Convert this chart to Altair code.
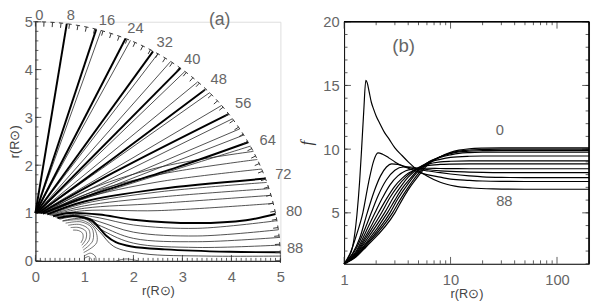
import altair as alt
import pandas as pd
import numpy as np

FONT = "Liberation Sans"
LABC = "#666666"

# ---------------- panel (b): f(r) for footpoint colatitudes 0..88 ----------------
B_THETA = [0, 8, 16, 24, 32, 40, 48, 56, 64, 72, 80, 88]
R_0 = [1, 1.3, 1.6, 3.0, 3.5, 4, 5, 6, 8, 10, 12, 15, 20, 30, 200]
F_0 = [1, 1.55, 2.3, 5.0, 6.0, 6.8, 7.9, 8.7, 9.4, 9.75, 9.92, 10.03, 10.08, 10.1, 10.1]
R_8 = [1, 1.3, 1.6, 2.85, 3.4, 4, 5, 6, 8, 10, 12, 15, 20, 30, 200]
F_8 = [1, 1.6, 2.4, 5.0, 6.1, 7.0, 8.1, 8.8, 9.4, 9.7, 9.85, 9.93, 9.97, 10.0, 10.0]
R_16 = [1, 1.3, 1.6, 2.7, 3.2, 4, 5, 6, 8, 10, 12, 15, 20, 30, 200]
F_16 = [1, 1.65, 2.5, 5.0, 6.1, 7.3, 8.3, 8.9, 9.4, 9.65, 9.78, 9.85, 9.88, 9.9, 9.9]
R_24 = [1, 1.3, 1.6, 2.55, 3, 3.5, 4, 5, 6, 8, 10, 12, 15, 20, 30, 200]
F_24 = [1, 1.7, 2.6, 5.0, 6.0, 6.9, 7.5, 8.4, 8.9, 9.35, 9.55, 9.67, 9.73, 9.76, 9.77, 9.77]
R_32 = [1, 1.3, 1.6, 2.4, 3, 3.5, 4, 5, 6, 8, 10, 15, 20, 30, 200]
F_32 = [1, 1.75, 2.8, 5.0, 6.4, 7.2, 7.8, 8.5, 8.9, 9.2, 9.35, 9.44, 9.46, 9.46, 9.46]
R_40 = [1, 1.3, 1.6, 2.25, 2.7, 3.2, 3.8, 4.5, 5, 6, 8, 10, 15, 20, 30, 200]
F_40 = [1, 1.8, 3.0, 5.0, 6.2, 7.1, 7.8, 8.3, 8.55, 8.8, 9.0, 9.05, 9.08, 9.08, 9.08, 9.08]
R_48 = [1, 1.3, 1.6, 2.1, 2.5, 3, 3.5, 4, 5, 6, 8, 10, 15, 20, 30, 200]
F_48 = [1, 1.9, 3.2, 5.0, 6.1, 7.1, 7.7, 8.1, 8.5, 8.7, 8.8, 8.83, 8.85, 8.85, 8.85, 8.85]
R_56 = [1, 1.3, 1.6, 1.95, 2.3, 2.7, 3.2, 3.8, 4.5, 5, 6, 8, 10, 15, 20, 30, 50, 200]
F_56 = [1, 2.0, 3.5, 5.0, 6.2, 7.2, 7.9, 8.3, 8.45, 8.5, 8.5, 8.48, 8.47, 8.46, 8.46, 8.46, 8.46, 8.46]
R_64 = [1, 1.3, 1.6, 1.8, 2.1, 2.5, 3, 3.6, 4.2, 5, 6, 8, 10, 15, 20, 30, 50, 200]
F_64 = [1, 2.2, 3.9, 5.0, 6.4, 7.6, 8.35, 8.6, 8.6, 8.5, 8.4, 8.3, 8.25, 8.2, 8.17, 8.15, 8.15, 8.15]
R_72 = [1, 1.2, 1.4, 1.65, 1.9, 2.2, 2.5, 2.8, 3.2, 3.7, 4.3, 5, 6, 8, 10, 15, 20, 30, 50, 200]
F_72 = [1, 1.8, 3.0, 5.0, 6.6, 7.9, 8.6, 8.85, 8.8, 8.65, 8.5, 8.4, 8.3, 8.15, 8.05, 7.9, 7.82, 7.78, 7.77, 7.77]
R_80 = [1, 1.15, 1.3, 1.5, 1.7, 1.9, 2.08, 2.3, 2.6, 3, 3.5, 4, 5, 6, 8, 10, 15, 20, 30, 50, 100, 200]
F_80 = [1, 1.9, 3.2, 5.0, 7.4, 9.1, 9.7, 9.6, 9.35, 9.0, 8.7, 8.5, 8.2, 8.0, 7.8, 7.65, 7.55, 7.5, 7.47, 7.46, 7.46, 7.46]
R_88 = [1, 1.1, 1.2, 1.32, 1.4, 1.46, 1.53, 1.6, 1.65, 1.72, 1.8, 1.9, 2.0, 2.17, 2.4, 2.64, 3.0, 3.5, 4.0, 5.0, 6.0, 8.0, 11, 16, 25, 50, 100, 200]
F_88 = [1, 1.5, 2.3, 4.85, 7.5, 10, 13, 15.4, 15.2, 14.5, 13.7, 13.1, 12.6, 12.0, 11.3, 10.8, 10.1, 9.5, 9.0, 8.3, 7.9, 7.4, 7.1, 6.95, 6.88, 6.85, 6.85, 6.85]
B_CURVES = [(R_0, F_0), (R_8, F_8), (R_16, F_16), (R_24, F_24), (R_32, F_32), (R_40, F_40),
            (R_48, F_48), (R_56, F_56), (R_64, F_64), (R_72, F_72), (R_80, F_80), (R_88, F_88)]
B_LABELS = ["(b)", "0", "88"]
B_LAB_R = [3.63, 29.0, 32.0]
B_LAB_F = [18.1, 11.5, 5.9]
B_LAB_SIZE = [19, 15, 15]

# ---------------- panel (a): field lines ----------------
THICK_LINES = [
    [(0.0, 1.0), (0.64, 4.96)],
    [(0.0, 1.0), (1.24, 4.84)],
    [(0.0, 1.0), (1.84, 4.65)],
    [(0.01, 1.0), (2.4, 4.38)],
    [(0.03, 1.0), (2.96, 4.03)],
    [(0.06, 1.0), (1.6, 2.15), (3.46, 3.58)],
    [(0.1, 0.995), (1.6, 1.85), (3.94, 3.07)],
    [(0.15, 0.99), (1.0, 1.33), (2.9, 1.96), (4.34, 2.48)],
    [(0.24, 0.97), (1.0, 1.24), (2.5, 1.5), (4.7, 1.72)],
    [(0.36, 0.933), (0.7, 1.0), (1.3, 0.97), (2.0, 0.86), (3.3, 0.79), (4.3, 0.85), (4.9, 0.98)],
    [(0.45, 0.893), (0.76, 0.94), (1.0, 0.9), (1.16, 0.84), (1.3, 0.69), (1.44, 0.53), (1.64, 0.39),
     (1.96, 0.3), (2.64, 0.24), (3.96, 0.19), (4.996, 0.18)],
]
THIN_LINES = [
    [(0.0, 1.0), (1.34, 4.82)],
    [(0.0, 1.0), (1.94, 4.61)],
    [(0.01, 1.0), (2.5, 4.33)],
    [(0.02, 1.0), (2.76, 4.17)],
    [(0.04, 1.0), (3.05, 3.96)],
    [(0.05, 1.0), (3.31, 3.74)],
    [(0.07, 1.0), (3.56, 3.52)],
    [(0.08, 1.0), (3.8, 3.25)],
    [(0.11, 0.994), (4.02, 2.97)],
    [(0.12, 0.993), (4.17, 2.76)],
    [(0.13, 0.992), (4.25, 2.63)],
    [(0.16, 0.987), (1.0, 1.3), (4.39, 2.4)],
    [(0.17, 0.985), (1.0, 1.45), (2.5, 1.95), (4.45, 2.29)],
    [(0.19, 0.98), (1.0, 1.38), (2.5, 1.8), (4.53, 2.12)],
    [(0.21, 0.977), (1.0, 1.31), (2.5, 1.65), (4.62, 1.92)],
    [(0.26, 0.966), (1.0, 1.2), (2.5, 1.44), (4.72, 1.64)],
    [(0.28, 0.96), (1.0, 1.15), (2.5, 1.33), (4.77, 1.51)],
    [(0.3, 0.954), (1.0, 1.1), (2.5, 1.2), (4.81, 1.37)],
    [(0.33, 0.944), (1.0, 1.05), (2.5, 1.05), (4.85, 1.2)],
    [(0.4, 0.917), (0.8, 0.97), (1.3, 0.9), (2.0, 0.75), (3.3, 0.68), (4.93, 0.84)],
    [(0.43, 0.9), (0.85, 0.95), (1.3, 0.82), (2.0, 0.6), (3.3, 0.52), (4.96, 0.65)],
    [(0.46, 0.888), (0.9, 0.93), (1.35, 0.72), (2.0, 0.47), (3.3, 0.4), (4.98, 0.49)],
    [(0.49, 0.87), (0.95, 0.92), (1.4, 0.62), (2.0, 0.37), (3.3, 0.28), (4.99, 0.33)],
    [(0.55, 0.835), (1.0, 0.88), (1.3, 0.62), (1.6, 0.3), (2.2, 0.15), (3.5, 0.1), (5.0, 0.1)],
]
LOOPS = [
    [(0.766, 0.643), (0.874, 0.635), (0.96, 0.577), (0.971, 0.473), (0.927, 0.375)],
    [(0.719, 0.695), (0.89, 0.696), (1.029, 0.618), (1.032, 0.46), (0.946, 0.326)],
    [(0.669, 0.743), (0.905, 0.76), (1.09, 0.655), (1.1, 0.445), (0.961, 0.276)],
    [(0.616, 0.788), (0.93, 0.815), (1.15, 0.69), (1.17, 0.42), (0.974, 0.225)],
    [(0.559, 0.829), (0.95, 0.85), (1.2, 0.68), (1.25, 0.38), (0.985, 0.174)],
    [(0.995, 0.1), (1.12, 0.16), (1.22, 0.1), (1.24, 0.0)],
    [(0.999, 0.05), (1.08, 0.09), (1.14, 0.04), (1.15, 0.0)],
    [(1.65, 0.0), (1.85, 0.04), (2.1, 0.0)],
]
A_LABELS = ["0", "8", "16", "24", "32", "40", "48", "56", "64", "72", "80", "88"]
A_LAB_X = [0.08, 0.72, 1.46, 2.04, 2.64, 3.2, 3.74, 4.24, 4.74, 5.06, 5.28, 5.3]
A_LAB_Y = [5.14, 5.14, 5.03, 4.86, 4.57, 4.22, 3.8, 3.29, 2.53, 1.82, 1.04, 0.27]
A_PANEL = ["(a)"]
A_PANEL_X = [3.76]
A_PANEL_Y = [5.03]

ARC_TICK_DEG = list(range(0, 92, 2))


def lines_df(groups, prefix):
    rows = []
    for i, pts in enumerate(groups):
        for j, (x, y) in enumerate(pts):
            rows.append({"line": f"{prefix}{i}", "x": x, "y": y, "k": j})
    return pd.DataFrame(rows)


thick_df = lines_df(THICK_LINES, "T")
thin_df = lines_df(THIN_LINES, "t")
loop_df = lines_df(LOOPS, "L")

ad = np.radians(np.array(ARC_TICK_DEG, dtype=float))
stem_df = pd.DataFrame({"x": 5 * np.sin(ad), "y": 5 * np.cos(ad), "x2": 4.9 * np.sin(ad), "y2": 4.9 * np.cos(ad)})
d1 = ad - np.radians(0.5)
d2 = ad + np.radians(0.5)
top_df = pd.DataFrame({"x": 5 * np.sin(d1), "y": 5 * np.cos(d1), "x2": 5 * np.sin(d2), "y2": 5 * np.cos(d2)})

alab_df = pd.DataFrame({"t": A_LABELS, "x": A_LAB_X, "y": A_LAB_Y})
apan_df = pd.DataFrame({"t": A_PANEL, "x": A_PANEL_X, "y": A_PANEL_Y})

WA, HA = 250, 244
sxA = alt.Scale(domain=[0, 5], nice=False, zero=False)
syA = alt.Scale(domain=[0, 5], nice=False, zero=False)
axA_x = alt.Axis(values=[0, 1, 2, 3, 4, 5], format="d", ticks=False, grid=False, domainColor="black",
                 labelFont=FONT, labelFontSize=15, labelColor=LABC, labelPadding=9, labelFlush=False,
                 labelOverlap=False, title="r(R⊙)", titleFont=FONT, titleFontSize=13,
                 titleFontWeight="normal", titleColor="#444", titlePadding=0)
axA_y = alt.Axis(values=[0, 1, 2, 3, 4, 5], format="d", ticks=False, grid=False, domainColor="black",
                 labelFont=FONT, labelFontSize=15, labelColor=LABC, labelPadding=3, labelFlush=False,
                 labelOverlap=False, title="r(R⊙)", titleFont=FONT, titleFontSize=13,
                 titleFontWeight="normal", titleColor="#444", titlePadding=3)


def XA(f="x"):
    return alt.X(f"{f}:Q", scale=sxA, axis=axA_x)


def YA(f="y"):
    return alt.Y(f"{f}:Q", scale=syA, axis=axA_y)


thin_a = alt.Chart(thin_df).mark_line(color="#222", strokeWidth=0.8, interpolate="catmull-rom").encode(
    x=XA(), y=YA(), detail="line:N", order="k:Q")
loop_a = alt.Chart(loop_df).mark_line(color="#333", strokeWidth=0.7, interpolate="catmull-rom").encode(
    x=XA(), y=YA(), detail="line:N", order="k:Q")
thick_a = alt.Chart(thick_df).mark_line(color="black", strokeWidth=2.0, interpolate="catmull-rom").encode(
    x=XA(), y=YA(), detail="line:N", order="k:Q")
stem_a = alt.Chart(stem_df).mark_rule(color="#333", strokeWidth=1).encode(x=XA(), y=YA(), x2="x2:Q", y2="y2:Q")
top_a = alt.Chart(top_df).mark_rule(color="#333", strokeWidth=1).encode(x=XA(), y=YA(), x2="x2:Q", y2="y2:Q")
lab_a = alt.Chart(alab_df).mark_text(font=FONT, fontSize=15, color=LABC).encode(x=XA(), y=YA(), text="t:N")
pan_a = alt.Chart(apan_df).mark_text(font=FONT, fontSize=18, color=LABC).encode(x=XA(), y=YA(), text="t:N")

# inward ticks for panel (a)
xt_minor = pd.DataFrame({"x": np.round(np.arange(0, 5.01, 0.1), 2)})
xt_major = pd.DataFrame({"x": [0, 1, 2, 3, 4, 5]})
yt_minor = pd.DataFrame({"y": np.round(np.arange(0, 5.01, 0.2), 2)})
tick_a = alt.layer(
    alt.Chart(xt_minor).mark_rule(color="#333", strokeWidth=0.8).encode(x=XA(), y=alt.value(HA), y2=alt.value(HA - 3)),
    alt.Chart(xt_major).mark_rule(color="#333", strokeWidth=0.8).encode(x=XA(), y=alt.value(HA), y2=alt.value(HA - 6)),
    alt.Chart(yt_minor).mark_rule(color="#333", strokeWidth=0.8).encode(y=YA(), x=alt.value(0), x2=alt.value(3)),
    alt.Chart(xt_major.rename(columns={"x": "y"})).mark_rule(color="#333", strokeWidth=0.8).encode(
        y=YA(), x=alt.value(0), x2=alt.value(6)),
)

panel_a = alt.layer(tick_a, loop_a, thin_a, thick_a, stem_a, top_a, lab_a, pan_a).properties(width=WA, height=HA)

# ---------------- panel (b) chart ----------------
rows = []
for th, (rr, ff) in zip(B_THETA, B_CURVES):
    for j, (r, f) in enumerate(zip(rr, ff)):
        rows.append({"theta": th, "r": r, "f": f, "k": j})
b_df = pd.DataFrame(rows)
blab_df = pd.DataFrame({"t": B_LABELS, "r": B_LAB_R, "f": B_LAB_F, "s": B_LAB_SIZE})

WB, HB = 250, 247
sxB = alt.Scale(type="log", domain=[1, 200], nice=False)
syB = alt.Scale(domain=[1, 20], nice=False, zero=False)
axB_x = alt.Axis(values=[1, 10, 100], format="d", ticks=False, grid=False, domainColor="black",
                 labelFont=FONT, labelFontSize=15, labelColor=LABC, labelPadding=9, labelFlush=False,
                 labelOverlap=False, title="r(R⊙)", titleFont=FONT, titleFontSize=13,
                 titleFontWeight="normal", titleColor="#444", titlePadding=0)
axB_y = alt.Axis(values=[5, 10, 15, 20], format="d", ticks=False, grid=False, domainColor="black",
                 labelFont=FONT, labelFontSize=15, labelColor=LABC, labelPadding=5, labelFlush=False,
                 labelOverlap=False, title="f", titleFont="Liberation Serif", titleFontSize=17,
                 titleFontStyle="italic", titleFontWeight="normal", titleColor="#333", titlePadding=8)


def XB(f="r"):
    return alt.X(f"{f}:Q", scale=sxB, axis=axB_x)


def YB(f="f"):
    return alt.Y(f"{f}:Q", scale=syB, axis=axB_y)


curves_b = alt.Chart(b_df).mark_line(color="black", strokeWidth=1.2, interpolate="monotone").encode(
    x=XB(), y=YB(), detail="theta:N", order="k:Q")
lab_b = alt.Chart(blab_df).mark_text(font=FONT, color=LABC).encode(
    x=XB(), y=YB(), text="t:N", size=alt.Size("s:Q", scale=None, legend=None))

bx_major = pd.DataFrame({"r": [1, 10, 100]})
bx_minor = pd.DataFrame({"r": [2, 3, 4, 5, 6, 7, 8, 9, 20, 30, 40, 50, 60, 70, 80, 90, 200]})
by_major = pd.DataFrame({"f": [5, 10, 15, 20]})
by_minor = pd.DataFrame({"f": list(range(1, 21))})
tk = dict(color="#333", strokeWidth=0.8)
tick_b = alt.layer(
    alt.Chart(bx_major).mark_rule(**tk).encode(x=XB(), y=alt.value(HB), y2=alt.value(HB - 7)),
    alt.Chart(bx_minor).mark_rule(**tk).encode(x=XB(), y=alt.value(HB), y2=alt.value(HB - 3.5)),
    alt.Chart(bx_major).mark_rule(**tk).encode(x=XB(), y=alt.value(0), y2=alt.value(7)),
    alt.Chart(bx_minor).mark_rule(**tk).encode(x=XB(), y=alt.value(0), y2=alt.value(3.5)),
    alt.Chart(by_major).mark_rule(**tk).encode(y=YB(), x=alt.value(0), x2=alt.value(7)),
    alt.Chart(by_minor).mark_rule(**tk).encode(y=YB(), x=alt.value(0), x2=alt.value(3.5)),
    alt.Chart(by_major).mark_rule(**tk).encode(y=YB(), x=alt.value(WB), x2=alt.value(WB - 7)),
    alt.Chart(by_minor).mark_rule(**tk).encode(y=YB(), x=alt.value(WB), x2=alt.value(WB - 3.5)),
    alt.Chart(bx_major).mark_rule(color="black", strokeWidth=1).encode(
        x=alt.value(0), x2=alt.value(WB), y=alt.value(0)),
    alt.Chart(bx_major).mark_rule(color="black", strokeWidth=1).encode(
        x=alt.value(WB), y=alt.value(0), y2=alt.value(HB)),
)

panel_b = alt.layer(tick_b, curves_b, lab_b).properties(width=WB, height=HB)

chart = alt.hconcat(panel_a, panel_b, spacing=65, bounds="flush").properties(
    padding={"left": 0, "top": -4, "right": 0, "bottom": 0}
).configure_view(stroke=None).configure(background="white")

chart.save("out.html", embed_options={"renderer": "svg", "actions": False})
